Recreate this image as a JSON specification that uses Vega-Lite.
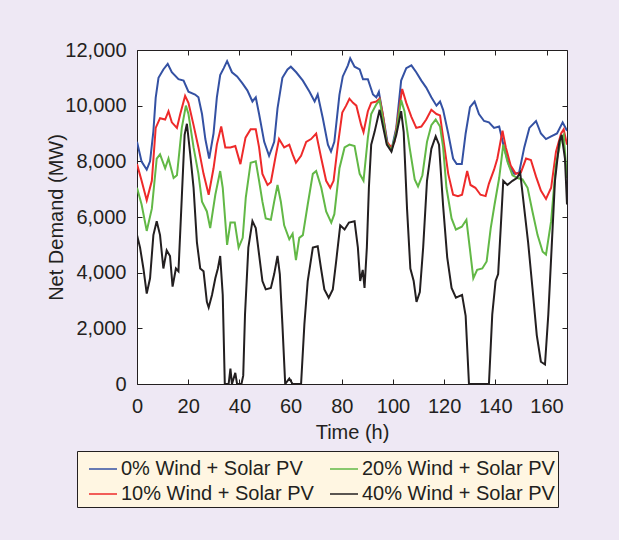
{
  "$schema": "https://vega.github.io/schema/vega-lite/v6.json",
  "width": 430,
  "height": 334,
  "autosize": {"type": "none"},
  "padding": {"left": 137, "top": 50, "right": 52, "bottom": 156},
  "background": "#EEE8F4",
  "config": {
    "font": "Liberation Sans",
    "view": {"stroke": "#231f20", "strokeWidth": 1, "fill": "#ffffff"},
    "axis": {
      "grid": false,
      "domain": false,
      "tickSize": -5,
      "tickColor": "#231f20",
      "tickWidth": 1,
      "labelFontSize": 20,
      "labelColor": "#231f20",
      "titleFontSize": 20,
      "titleFontWeight": "normal",
      "titleColor": "#231f20",
      "labelFlush": false,
      "labelOverlap": false
    }
  },
  "data": {"values": [
    {"s":"0% Wind + Solar PV","t":0,"v":8700},{"s":"0% Wind + Solar PV","t":1.8,"v":7990},{"s":"0% Wind + Solar PV","t":3.8,"v":7700},{"s":"0% Wind + Solar PV","t":5.1,"v":8000},{"s":"0% Wind + Solar PV","t":6.4,"v":9080},{"s":"0% Wind + Solar PV","t":7.3,"v":10280},{"s":"0% Wind + Solar PV","t":8.4,"v":11000},{"s":"0% Wind + Solar PV","t":10.3,"v":11300},{"s":"0% Wind + Solar PV","t":12,"v":11500},{"s":"0% Wind + Solar PV","t":13.6,"v":11200},{"s":"0% Wind + Solar PV","t":16.2,"v":10950},{"s":"0% Wind + Solar PV","t":18.2,"v":10900},{"s":"0% Wind + Solar PV","t":20.1,"v":10500},{"s":"0% Wind + Solar PV","t":22.7,"v":10400},{"s":"0% Wind + Solar PV","t":24,"v":10300},{"s":"0% Wind + Solar PV","t":25.4,"v":9700},{"s":"0% Wind + Solar PV","t":26.7,"v":8800},{"s":"0% Wind + Solar PV","t":28.2,"v":8100},{"s":"0% Wind + Solar PV","t":29.9,"v":9000},{"s":"0% Wind + Solar PV","t":31.2,"v":10300},{"s":"0% Wind + Solar PV","t":32.5,"v":11100},{"s":"0% Wind + Solar PV","t":33.9,"v":11350},{"s":"0% Wind + Solar PV","t":35.2,"v":11600},{"s":"0% Wind + Solar PV","t":37.1,"v":11200},{"s":"0% Wind + Solar PV","t":39.1,"v":11050},{"s":"0% Wind + Solar PV","t":41.2,"v":10800},{"s":"0% Wind + Solar PV","t":43.1,"v":10550},{"s":"0% Wind + Solar PV","t":45.1,"v":10150},{"s":"0% Wind + Solar PV","t":46.4,"v":10300},{"s":"0% Wind + Solar PV","t":47.7,"v":9700},{"s":"0% Wind + Solar PV","t":49.7,"v":8700},{"s":"0% Wind + Solar PV","t":51.6,"v":8200},{"s":"0% Wind + Solar PV","t":53.6,"v":8700},{"s":"0% Wind + Solar PV","t":54.9,"v":9900},{"s":"0% Wind + Solar PV","t":56.8,"v":11000},{"s":"0% Wind + Solar PV","t":58.8,"v":11300},{"s":"0% Wind + Solar PV","t":60.1,"v":11400},{"s":"0% Wind + Solar PV","t":62.2,"v":11200},{"s":"0% Wind + Solar PV","t":64.8,"v":10900},{"s":"0% Wind + Solar PV","t":67.4,"v":10500},{"s":"0% Wind + Solar PV","t":69.4,"v":10150},{"s":"0% Wind + Solar PV","t":70.6,"v":10400},{"s":"0% Wind + Solar PV","t":72.6,"v":9550},{"s":"0% Wind + Solar PV","t":74.6,"v":8600},{"s":"0% Wind + Solar PV","t":75.8,"v":8350},{"s":"0% Wind + Solar PV","t":77.1,"v":8700},{"s":"0% Wind + Solar PV","t":79.1,"v":10400},{"s":"0% Wind + Solar PV","t":80.4,"v":11050},{"s":"0% Wind + Solar PV","t":82.4,"v":11450},{"s":"0% Wind + Solar PV","t":83.3,"v":11700},{"s":"0% Wind + Solar PV","t":85,"v":11400},{"s":"0% Wind + Solar PV","t":87,"v":11300},{"s":"0% Wind + Solar PV","t":88.3,"v":10950},{"s":"0% Wind + Solar PV","t":90.2,"v":10950},{"s":"0% Wind + Solar PV","t":92.2,"v":10400},{"s":"0% Wind + Solar PV","t":93.5,"v":10300},{"s":"0% Wind + Solar PV","t":94.5,"v":10500},{"s":"0% Wind + Solar PV","t":96,"v":9700},{"s":"0% Wind + Solar PV","t":98,"v":8600},{"s":"0% Wind + Solar PV","t":99.4,"v":8400},{"s":"0% Wind + Solar PV","t":101.3,"v":9200},{"s":"0% Wind + Solar PV","t":103.2,"v":10900},{"s":"0% Wind + Solar PV","t":105.2,"v":11350},{"s":"0% Wind + Solar PV","t":107.2,"v":11450},{"s":"0% Wind + Solar PV","t":109.1,"v":11200},{"s":"0% Wind + Solar PV","t":111.1,"v":10900},{"s":"0% Wind + Solar PV","t":113,"v":10650},{"s":"0% Wind + Solar PV","t":115,"v":10300},{"s":"0% Wind + Solar PV","t":117,"v":10000},{"s":"0% Wind + Solar PV","t":118.4,"v":10150},{"s":"0% Wind + Solar PV","t":119.6,"v":9850},{"s":"0% Wind + Solar PV","t":121.6,"v":9000},{"s":"0% Wind + Solar PV","t":123.5,"v":8100},{"s":"0% Wind + Solar PV","t":124.9,"v":7900},{"s":"0% Wind + Solar PV","t":126.9,"v":7900},{"s":"0% Wind + Solar PV","t":128.4,"v":9000},{"s":"0% Wind + Solar PV","t":130.1,"v":9950},{"s":"0% Wind + Solar PV","t":131.9,"v":10150},{"s":"0% Wind + Solar PV","t":133.6,"v":9700},{"s":"0% Wind + Solar PV","t":135.6,"v":9450},{"s":"0% Wind + Solar PV","t":137.5,"v":9400},{"s":"0% Wind + Solar PV","t":139.5,"v":9200},{"s":"0% Wind + Solar PV","t":141.5,"v":9250},{"s":"0% Wind + Solar PV","t":143.4,"v":8500},{"s":"0% Wind + Solar PV","t":145.4,"v":7850},{"s":"0% Wind + Solar PV","t":147.4,"v":7550},{"s":"0% Wind + Solar PV","t":149.3,"v":7600},{"s":"0% Wind + Solar PV","t":151.3,"v":8500},{"s":"0% Wind + Solar PV","t":153.3,"v":9200},{"s":"0% Wind + Solar PV","t":155.9,"v":9450},{"s":"0% Wind + Solar PV","t":157.8,"v":9000},{"s":"0% Wind + Solar PV","t":159.8,"v":8800},{"s":"0% Wind + Solar PV","t":161.8,"v":8900},{"s":"0% Wind + Solar PV","t":164.1,"v":9000},{"s":"0% Wind + Solar PV","t":166.3,"v":9400},{"s":"0% Wind + Solar PV","t":168,"v":9100},
    {"s":"10% Wind + Solar PV","t":0,"v":7900},{"s":"10% Wind + Solar PV","t":1.8,"v":7300},{"s":"10% Wind + Solar PV","t":3.8,"v":6600},{"s":"10% Wind + Solar PV","t":5.8,"v":7300},{"s":"10% Wind + Solar PV","t":7.3,"v":9200},{"s":"10% Wind + Solar PV","t":9,"v":9550},{"s":"10% Wind + Solar PV","t":11,"v":9500},{"s":"10% Wind + Solar PV","t":12.3,"v":9800},{"s":"10% Wind + Solar PV","t":13.6,"v":9400},{"s":"10% Wind + Solar PV","t":15.6,"v":9200},{"s":"10% Wind + Solar PV","t":16.9,"v":9700},{"s":"10% Wind + Solar PV","t":18.8,"v":10350},{"s":"10% Wind + Solar PV","t":20.1,"v":10100},{"s":"10% Wind + Solar PV","t":22.1,"v":9300},{"s":"10% Wind + Solar PV","t":24,"v":8500},{"s":"10% Wind + Solar PV","t":26,"v":7550},{"s":"10% Wind + Solar PV","t":28,"v":6800},{"s":"10% Wind + Solar PV","t":29.9,"v":7750},{"s":"10% Wind + Solar PV","t":31.2,"v":8600},{"s":"10% Wind + Solar PV","t":32.9,"v":9250},{"s":"10% Wind + Solar PV","t":34.5,"v":8500},{"s":"10% Wind + Solar PV","t":36.5,"v":8500},{"s":"10% Wind + Solar PV","t":38.4,"v":8550},{"s":"10% Wind + Solar PV","t":40.4,"v":7900},{"s":"10% Wind + Solar PV","t":42.4,"v":8850},{"s":"10% Wind + Solar PV","t":44.4,"v":9150},{"s":"10% Wind + Solar PV","t":46.4,"v":9150},{"s":"10% Wind + Solar PV","t":47.7,"v":8500},{"s":"10% Wind + Solar PV","t":49,"v":7550},{"s":"10% Wind + Solar PV","t":51,"v":7150},{"s":"10% Wind + Solar PV","t":52.3,"v":7250},{"s":"10% Wind + Solar PV","t":54.2,"v":8200},{"s":"10% Wind + Solar PV","t":55.5,"v":8800},{"s":"10% Wind + Solar PV","t":57.5,"v":8500},{"s":"10% Wind + Solar PV","t":59.5,"v":8600},{"s":"10% Wind + Solar PV","t":60.8,"v":8250},{"s":"10% Wind + Solar PV","t":62.1,"v":7950},{"s":"10% Wind + Solar PV","t":64.1,"v":8200},{"s":"10% Wind + Solar PV","t":66.1,"v":8700},{"s":"10% Wind + Solar PV","t":68,"v":8800},{"s":"10% Wind + Solar PV","t":70,"v":9000},{"s":"10% Wind + Solar PV","t":72,"v":8100},{"s":"10% Wind + Solar PV","t":73.9,"v":7300},{"s":"10% Wind + Solar PV","t":75.5,"v":7050},{"s":"10% Wind + Solar PV","t":76.8,"v":7300},{"s":"10% Wind + Solar PV","t":78.5,"v":8600},{"s":"10% Wind + Solar PV","t":80.2,"v":9750},{"s":"10% Wind + Solar PV","t":81.7,"v":10000},{"s":"10% Wind + Solar PV","t":83,"v":10250},{"s":"10% Wind + Solar PV","t":84.4,"v":10100},{"s":"10% Wind + Solar PV","t":85.7,"v":10000},{"s":"10% Wind + Solar PV","t":87.6,"v":9300},{"s":"10% Wind + Solar PV","t":88.5,"v":9050},{"s":"10% Wind + Solar PV","t":90.2,"v":9800},{"s":"10% Wind + Solar PV","t":91.5,"v":10100},{"s":"10% Wind + Solar PV","t":93.5,"v":10150},{"s":"10% Wind + Solar PV","t":94.8,"v":10250},{"s":"10% Wind + Solar PV","t":96,"v":9700},{"s":"10% Wind + Solar PV","t":97.6,"v":8700},{"s":"10% Wind + Solar PV","t":99.4,"v":8500},{"s":"10% Wind + Solar PV","t":100.6,"v":8700},{"s":"10% Wind + Solar PV","t":102.3,"v":9800},{"s":"10% Wind + Solar PV","t":103.6,"v":10600},{"s":"10% Wind + Solar PV","t":105.2,"v":10100},{"s":"10% Wind + Solar PV","t":107.2,"v":9600},{"s":"10% Wind + Solar PV","t":109.1,"v":9200},{"s":"10% Wind + Solar PV","t":111.1,"v":9250},{"s":"10% Wind + Solar PV","t":113,"v":9500},{"s":"10% Wind + Solar PV","t":115,"v":9850},{"s":"10% Wind + Solar PV","t":117,"v":9700},{"s":"10% Wind + Solar PV","t":118.4,"v":9650},{"s":"10% Wind + Solar PV","t":119.6,"v":8850},{"s":"10% Wind + Solar PV","t":121.6,"v":7550},{"s":"10% Wind + Solar PV","t":123.5,"v":6800},{"s":"10% Wind + Solar PV","t":125.4,"v":6750},{"s":"10% Wind + Solar PV","t":127,"v":6800},{"s":"10% Wind + Solar PV","t":129,"v":7650},{"s":"10% Wind + Solar PV","t":130.3,"v":7150},{"s":"10% Wind + Solar PV","t":132.2,"v":7050},{"s":"10% Wind + Solar PV","t":134.2,"v":6800},{"s":"10% Wind + Solar PV","t":136.2,"v":6750},{"s":"10% Wind + Solar PV","t":137.5,"v":7200},{"s":"10% Wind + Solar PV","t":139.5,"v":7700},{"s":"10% Wind + Solar PV","t":140.8,"v":8100},{"s":"10% Wind + Solar PV","t":142.8,"v":9100},{"s":"10% Wind + Solar PV","t":144.1,"v":8500},{"s":"10% Wind + Solar PV","t":146,"v":7850},{"s":"10% Wind + Solar PV","t":148,"v":7550},{"s":"10% Wind + Solar PV","t":150,"v":7600},{"s":"10% Wind + Solar PV","t":152,"v":8100},{"s":"10% Wind + Solar PV","t":153.9,"v":8050},{"s":"10% Wind + Solar PV","t":155.9,"v":7450},{"s":"10% Wind + Solar PV","t":157.8,"v":6950},{"s":"10% Wind + Solar PV","t":159.8,"v":6650},{"s":"10% Wind + Solar PV","t":161.8,"v":7050},{"s":"10% Wind + Solar PV","t":163.7,"v":8350},{"s":"10% Wind + Solar PV","t":165.7,"v":9000},{"s":"10% Wind + Solar PV","t":166.7,"v":9150},{"s":"10% Wind + Solar PV","t":168,"v":8600},
    {"s":"20% Wind + Solar PV","t":0,"v":7050},{"s":"20% Wind + Solar PV","t":1.8,"v":6450},{"s":"20% Wind + Solar PV","t":3.8,"v":5500},{"s":"20% Wind + Solar PV","t":5.8,"v":6300},{"s":"20% Wind + Solar PV","t":7.7,"v":8100},{"s":"20% Wind + Solar PV","t":9,"v":8250},{"s":"20% Wind + Solar PV","t":11,"v":7750},{"s":"20% Wind + Solar PV","t":12.3,"v":8100},{"s":"20% Wind + Solar PV","t":14.3,"v":7400},{"s":"20% Wind + Solar PV","t":15.6,"v":7500},{"s":"20% Wind + Solar PV","t":17.5,"v":9200},{"s":"20% Wind + Solar PV","t":19.1,"v":10000},{"s":"20% Wind + Solar PV","t":20.1,"v":9700},{"s":"20% Wind + Solar PV","t":22.1,"v":8500},{"s":"20% Wind + Solar PV","t":24,"v":7550},{"s":"20% Wind + Solar PV","t":25.4,"v":6550},{"s":"20% Wind + Solar PV","t":27.3,"v":6200},{"s":"20% Wind + Solar PV","t":28.6,"v":5600},{"s":"20% Wind + Solar PV","t":30.6,"v":6800},{"s":"20% Wind + Solar PV","t":32.5,"v":7650},{"s":"20% Wind + Solar PV","t":33.5,"v":7050},{"s":"20% Wind + Solar PV","t":35.2,"v":5000},{"s":"20% Wind + Solar PV","t":36.5,"v":5800},{"s":"20% Wind + Solar PV","t":38.2,"v":5800},{"s":"20% Wind + Solar PV","t":39.7,"v":4900},{"s":"20% Wind + Solar PV","t":41.3,"v":5250},{"s":"20% Wind + Solar PV","t":42.5,"v":6700},{"s":"20% Wind + Solar PV","t":44.4,"v":7950},{"s":"20% Wind + Solar PV","t":46.4,"v":8000},{"s":"20% Wind + Solar PV","t":47.7,"v":7300},{"s":"20% Wind + Solar PV","t":49,"v":6550},{"s":"20% Wind + Solar PV","t":50.3,"v":5950},{"s":"20% Wind + Solar PV","t":52.3,"v":5900},{"s":"20% Wind + Solar PV","t":53.6,"v":6550},{"s":"20% Wind + Solar PV","t":54.9,"v":7150},{"s":"20% Wind + Solar PV","t":56.2,"v":6550},{"s":"20% Wind + Solar PV","t":57.5,"v":5700},{"s":"20% Wind + Solar PV","t":59.5,"v":5200},{"s":"20% Wind + Solar PV","t":60.8,"v":5400},{"s":"20% Wind + Solar PV","t":62.1,"v":4450},{"s":"20% Wind + Solar PV","t":63.4,"v":5250},{"s":"20% Wind + Solar PV","t":64.8,"v":5350},{"s":"20% Wind + Solar PV","t":66.7,"v":6450},{"s":"20% Wind + Solar PV","t":68.7,"v":7550},{"s":"20% Wind + Solar PV","t":70,"v":7650},{"s":"20% Wind + Solar PV","t":72,"v":7050},{"s":"20% Wind + Solar PV","t":73.9,"v":6200},{"s":"20% Wind + Solar PV","t":75.9,"v":5800},{"s":"20% Wind + Solar PV","t":77.1,"v":6100},{"s":"20% Wind + Solar PV","t":79.1,"v":7750},{"s":"20% Wind + Solar PV","t":81.1,"v":8500},{"s":"20% Wind + Solar PV","t":83,"v":8600},{"s":"20% Wind + Solar PV","t":85,"v":8550},{"s":"20% Wind + Solar PV","t":87,"v":7550},{"s":"20% Wind + Solar PV","t":88.5,"v":7300},{"s":"20% Wind + Solar PV","t":90.2,"v":8850},{"s":"20% Wind + Solar PV","t":91.5,"v":9700},{"s":"20% Wind + Solar PV","t":93.5,"v":10050},{"s":"20% Wind + Solar PV","t":94.8,"v":10200},{"s":"20% Wind + Solar PV","t":96,"v":9550},{"s":"20% Wind + Solar PV","t":97.6,"v":8650},{"s":"20% Wind + Solar PV","t":99.4,"v":8400},{"s":"20% Wind + Solar PV","t":101.3,"v":9050},{"s":"20% Wind + Solar PV","t":103.2,"v":10200},{"s":"20% Wind + Solar PV","t":104.5,"v":9800},{"s":"20% Wind + Solar PV","t":106.5,"v":8500},{"s":"20% Wind + Solar PV","t":108.5,"v":7350},{"s":"20% Wind + Solar PV","t":109.8,"v":7100},{"s":"20% Wind + Solar PV","t":111.5,"v":7500},{"s":"20% Wind + Solar PV","t":113.3,"v":8700},{"s":"20% Wind + Solar PV","t":115,"v":9300},{"s":"20% Wind + Solar PV","t":116.7,"v":9500},{"s":"20% Wind + Solar PV","t":118.4,"v":9250},{"s":"20% Wind + Solar PV","t":119.6,"v":8500},{"s":"20% Wind + Solar PV","t":120.9,"v":7050},{"s":"20% Wind + Solar PV","t":122.9,"v":5950},{"s":"20% Wind + Solar PV","t":124.6,"v":5550},{"s":"20% Wind + Solar PV","t":126.9,"v":5650},{"s":"20% Wind + Solar PV","t":128.7,"v":5900},{"s":"20% Wind + Solar PV","t":130,"v":4900},{"s":"20% Wind + Solar PV","t":131.4,"v":3800},{"s":"20% Wind + Solar PV","t":132.9,"v":4100},{"s":"20% Wind + Solar PV","t":134.9,"v":4150},{"s":"20% Wind + Solar PV","t":136.6,"v":4400},{"s":"20% Wind + Solar PV","t":138.2,"v":5600},{"s":"20% Wind + Solar PV","t":139.7,"v":6450},{"s":"20% Wind + Solar PV","t":141.5,"v":7400},{"s":"20% Wind + Solar PV","t":143.1,"v":8600},{"s":"20% Wind + Solar PV","t":144.7,"v":8000},{"s":"20% Wind + Solar PV","t":146.7,"v":7500},{"s":"20% Wind + Solar PV","t":148.7,"v":7400},{"s":"20% Wind + Solar PV","t":150.6,"v":7350},{"s":"20% Wind + Solar PV","t":152.6,"v":7050},{"s":"20% Wind + Solar PV","t":154.5,"v":6200},{"s":"20% Wind + Solar PV","t":156.5,"v":5350},{"s":"20% Wind + Solar PV","t":158.5,"v":4750},{"s":"20% Wind + Solar PV","t":159.8,"v":4650},{"s":"20% Wind + Solar PV","t":161.8,"v":5850},{"s":"20% Wind + Solar PV","t":163.7,"v":7900},{"s":"20% Wind + Solar PV","t":165.7,"v":8800},{"s":"20% Wind + Solar PV","t":166.7,"v":8950},{"s":"20% Wind + Solar PV","t":168,"v":7400},
    {"s":"40% Wind + Solar PV","t":0,"v":5350},{"s":"40% Wind + Solar PV","t":1.2,"v":4900},{"s":"40% Wind + Solar PV","t":2.5,"v":4150},{"s":"40% Wind + Solar PV","t":3.8,"v":3250},{"s":"40% Wind + Solar PV","t":5.1,"v":3800},{"s":"40% Wind + Solar PV","t":6.4,"v":5350},{"s":"40% Wind + Solar PV","t":7.7,"v":5850},{"s":"40% Wind + Solar PV","t":9,"v":5350},{"s":"40% Wind + Solar PV","t":10.3,"v":4150},{"s":"40% Wind + Solar PV","t":11.6,"v":4800},{"s":"40% Wind + Solar PV","t":12.9,"v":4600},{"s":"40% Wind + Solar PV","t":13.9,"v":3500},{"s":"40% Wind + Solar PV","t":15.2,"v":4150},{"s":"40% Wind + Solar PV","t":16.2,"v":4050},{"s":"40% Wind + Solar PV","t":17.5,"v":6700},{"s":"40% Wind + Solar PV","t":18.6,"v":8950},{"s":"40% Wind + Solar PV","t":19.5,"v":9350},{"s":"40% Wind + Solar PV","t":20.8,"v":8250},{"s":"40% Wind + Solar PV","t":22.1,"v":7050},{"s":"40% Wind + Solar PV","t":23.4,"v":5100},{"s":"40% Wind + Solar PV","t":24.7,"v":4150},{"s":"40% Wind + Solar PV","t":26,"v":4050},{"s":"40% Wind + Solar PV","t":27.3,"v":2950},{"s":"40% Wind + Solar PV","t":28,"v":2750},{"s":"40% Wind + Solar PV","t":29.3,"v":3200},{"s":"40% Wind + Solar PV","t":30.6,"v":3800},{"s":"40% Wind + Solar PV","t":31.6,"v":4150},{"s":"40% Wind + Solar PV","t":32.5,"v":4600},{"s":"40% Wind + Solar PV","t":33.5,"v":3200},{"s":"40% Wind + Solar PV","t":34.3,"v":0},{"s":"40% Wind + Solar PV","t":35.8,"v":0},{"s":"40% Wind + Solar PV","t":36.5,"v":550},{"s":"40% Wind + Solar PV","t":37.1,"v":0},{"s":"40% Wind + Solar PV","t":38.4,"v":400},{"s":"40% Wind + Solar PV","t":39.1,"v":0},{"s":"40% Wind + Solar PV","t":40.8,"v":0},{"s":"40% Wind + Solar PV","t":41.5,"v":300},{"s":"40% Wind + Solar PV","t":42.2,"v":2500},{"s":"40% Wind + Solar PV","t":43.5,"v":4900},{"s":"40% Wind + Solar PV","t":45.1,"v":5850},{"s":"40% Wind + Solar PV","t":46.4,"v":5600},{"s":"40% Wind + Solar PV","t":47.7,"v":4650},{"s":"40% Wind + Solar PV","t":49,"v":3700},{"s":"40% Wind + Solar PV","t":50.3,"v":3400},{"s":"40% Wind + Solar PV","t":52.3,"v":3450},{"s":"40% Wind + Solar PV","t":53.6,"v":3950},{"s":"40% Wind + Solar PV","t":54.9,"v":4600},{"s":"40% Wind + Solar PV","t":55.8,"v":3950},{"s":"40% Wind + Solar PV","t":56.8,"v":2150},{"s":"40% Wind + Solar PV","t":57.9,"v":0},{"s":"40% Wind + Solar PV","t":59.5,"v":200},{"s":"40% Wind + Solar PV","t":60.8,"v":0},{"s":"40% Wind + Solar PV","t":64.1,"v":0},{"s":"40% Wind + Solar PV","t":65.4,"v":2150},{"s":"40% Wind + Solar PV","t":66.7,"v":3700},{"s":"40% Wind + Solar PV","t":68.7,"v":4900},{"s":"40% Wind + Solar PV","t":70.6,"v":4950},{"s":"40% Wind + Solar PV","t":71.9,"v":4150},{"s":"40% Wind + Solar PV","t":73.2,"v":3400},{"s":"40% Wind + Solar PV","t":74.9,"v":3100},{"s":"40% Wind + Solar PV","t":76.5,"v":3400},{"s":"40% Wind + Solar PV","t":77.8,"v":4400},{"s":"40% Wind + Solar PV","t":79.4,"v":5700},{"s":"40% Wind + Solar PV","t":81.1,"v":5550},{"s":"40% Wind + Solar PV","t":82.8,"v":5800},{"s":"40% Wind + Solar PV","t":85,"v":5850},{"s":"40% Wind + Solar PV","t":86.3,"v":4900},{"s":"40% Wind + Solar PV","t":87.2,"v":3700},{"s":"40% Wind + Solar PV","t":88.2,"v":4100},{"s":"40% Wind + Solar PV","t":88.9,"v":3450},{"s":"40% Wind + Solar PV","t":89.8,"v":4900},{"s":"40% Wind + Solar PV","t":90.6,"v":7050},{"s":"40% Wind + Solar PV","t":91.5,"v":8600},{"s":"40% Wind + Solar PV","t":92.8,"v":9050},{"s":"40% Wind + Solar PV","t":94.8,"v":9850},{"s":"40% Wind + Solar PV","t":96,"v":9300},{"s":"40% Wind + Solar PV","t":97.6,"v":8600},{"s":"40% Wind + Solar PV","t":99.4,"v":8350},{"s":"40% Wind + Solar PV","t":101.3,"v":8950},{"s":"40% Wind + Solar PV","t":103.2,"v":9800},{"s":"40% Wind + Solar PV","t":104.2,"v":9050},{"s":"40% Wind + Solar PV","t":105.5,"v":6300},{"s":"40% Wind + Solar PV","t":106.8,"v":4150},{"s":"40% Wind + Solar PV","t":108.1,"v":3700},{"s":"40% Wind + Solar PV","t":109.2,"v":2950},{"s":"40% Wind + Solar PV","t":110.5,"v":3300},{"s":"40% Wind + Solar PV","t":111.8,"v":4900},{"s":"40% Wind + Solar PV","t":113.3,"v":7300},{"s":"40% Wind + Solar PV","t":115,"v":8450},{"s":"40% Wind + Solar PV","t":116.7,"v":8900},{"s":"40% Wind + Solar PV","t":118,"v":8600},{"s":"40% Wind + Solar PV","t":119.6,"v":6400},{"s":"40% Wind + Solar PV","t":121.2,"v":4550},{"s":"40% Wind + Solar PV","t":122.9,"v":3450},{"s":"40% Wind + Solar PV","t":124.6,"v":3100},{"s":"40% Wind + Solar PV","t":127,"v":3200},{"s":"40% Wind + Solar PV","t":128.4,"v":2450},{"s":"40% Wind + Solar PV","t":129.7,"v":0},{"s":"40% Wind + Solar PV","t":137.5,"v":0},{"s":"40% Wind + Solar PV","t":138.8,"v":2500},{"s":"40% Wind + Solar PV","t":140.1,"v":3700},{"s":"40% Wind + Solar PV","t":141.1,"v":3950},{"s":"40% Wind + Solar PV","t":142.1,"v":5600},{"s":"40% Wind + Solar PV","t":143.1,"v":7300},{"s":"40% Wind + Solar PV","t":144.7,"v":7150},{"s":"40% Wind + Solar PV","t":146.7,"v":7300},{"s":"40% Wind + Solar PV","t":148.4,"v":7400},{"s":"40% Wind + Solar PV","t":149.7,"v":7600},{"s":"40% Wind + Solar PV","t":151.3,"v":6300},{"s":"40% Wind + Solar PV","t":152.8,"v":5100},{"s":"40% Wind + Solar PV","t":154.5,"v":3450},{"s":"40% Wind + Solar PV","t":156.2,"v":1750},{"s":"40% Wind + Solar PV","t":157.8,"v":800},{"s":"40% Wind + Solar PV","t":159.4,"v":700},{"s":"40% Wind + Solar PV","t":160.7,"v":2500},{"s":"40% Wind + Solar PV","t":162,"v":4900},{"s":"40% Wind + Solar PV","t":163.3,"v":7300},{"s":"40% Wind + Solar PV","t":165,"v":8700},{"s":"40% Wind + Solar PV","t":165.9,"v":8950},{"s":"40% Wind + Solar PV","t":167.2,"v":8100},{"s":"40% Wind + Solar PV","t":168,"v":6450}
  ]},
  "layer": [
    {
      "mark": {"type": "line", "strokeWidth": 2, "clip": true},
      "encoding": {
        "x": {"field": "t", "type": "quantitative", "scale": {"domain": [0, 168], "nice": false},
              "axis": {"orient": "bottom", "values": [0,20,40,60,80,100,120,140,160], "format": ".0f", "labelPadding": 17, "title": "Time (h)", "titlePadding": 6}},
        "y": {"field": "v", "type": "quantitative", "scale": {"domain": [0, 12000], "nice": false},
              "axis": {"orient": "left", "values": [0,2000,4000,6000,8000,10000,12000], "format": ",.0f", "labelPadding": 16, "title": "Net Demand (MW)", "titlePadding": -2}},
        "color": {"field": "s", "type": "nominal",
                  "scale": {"domain": ["0% Wind + Solar PV", "10% Wind + Solar PV", "20% Wind + Solar PV", "40% Wind + Solar PV"],
                            "range": ["#3451a3", "#ee2a2a", "#62b846", "#231f20"]},
                  "legend": {"orient": "none", "legendX": -60, "legendY": 401, "columns": 2, "title": null,
                             "symbolType": "stroke", "symbolSize": 784, "symbolStrokeWidth": 1.5, "symbolOffset": 8,
                             "labelFontSize": 20, "labelColor": "#231f20", "labelOffset": 3, "labelLimit": 400,
                             "fillColor": "#FFF6E2", "strokeColor": "#231f20", "padding": 3,
                             "rowPadding": -2, "columnPadding": 7}}
      }
    },
    {
      "mark": {"type": "line", "opacity": 0},
      "encoding": {
        "x": {"field": "t", "type": "quantitative",
              "axis": {"orient": "top", "values": [0,20,40,60,80,100,120,140,160], "labels": false, "title": null}},
        "y": {"field": "v", "type": "quantitative",
              "axis": {"orient": "right", "values": [0,2000,4000,6000,8000,10000,12000], "labels": false, "title": null}}
      }
    }
  ],
  "resolve": {"axis": {"x": "independent", "y": "independent"}}
}
